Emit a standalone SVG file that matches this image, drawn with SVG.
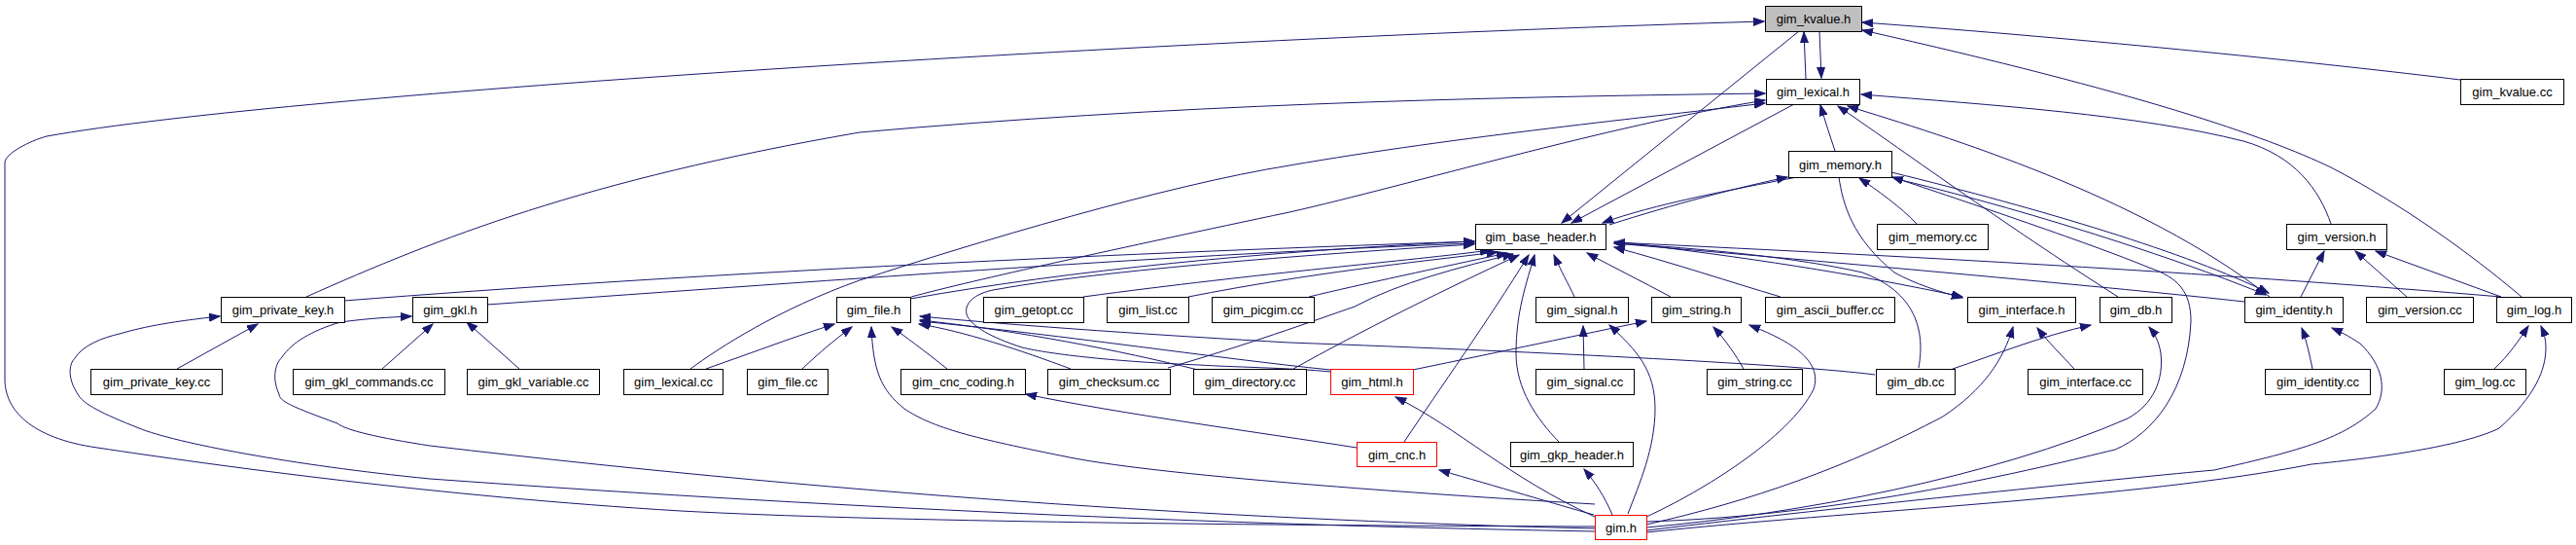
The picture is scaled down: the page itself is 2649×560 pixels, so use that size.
<svg xmlns="http://www.w3.org/2000/svg" width="2649" height="560" viewBox="0 0 2649 560">
<defs>
<marker id="ah" markerWidth="12" markerHeight="10" refX="11" refY="4" orient="auto" markerUnits="userSpaceOnUse"><path d="M0,0 L11,4 L0,8 z" fill="#191970" stroke="#191970" stroke-width="1"/></marker>
</defs>
<style>
.n rect{fill:#fff;stroke:#000;stroke-width:1}
.n.cur rect{fill:#bfbfbf}
.n.red rect{stroke:#ff0000}
.n text{font-family:"Liberation Sans",Arial,sans-serif;font-size:13px;text-anchor:middle;fill:#000}
#edges path{fill:none;stroke:#191970;stroke-width:1;marker-end:url(#ah)}
</style>
<rect width="2649" height="560" fill="#fff"/>
<g id="edges">
<path d="M1857,81 L1855,33"/>
<path d="M1871,32 L1873,80"/>
<path d="M1640,541 C1300,540 900,536 700,525 C450,510 220,478 100,460 C30,450 5,420 5,390 L5,167 C5,158 30,145 48,140 C300,95 1200,40 1814,22"/>
<path d="M2530,82 C2400,66 2150,40 1915,23"/>
<path d="M2593,305 C2540,260 2470,210 2397,172 C2330,140 2200,95 1915,31"/>
<path d="M1850,32 L1606,229"/>
<path d="M1845,107 L1616,229"/>
<path d="M1887,155 C1882,140 1877,125 1872,108"/>
<path d="M1848,182 C1780,195 1700,210 1648,229"/>
<path d="M1655,231 C1720,210 1790,192 1838,182"/>
<path d="M1971,230 C1955,213 1930,195 1912,183"/>
<path d="M2397,230 C2385,195 2360,160 2307,145 C2200,118 2050,108 1914,97"/>
<path d="M2366,305 L2390,258"/>
<path d="M2475,305 L2422,258"/>
<path d="M2572,305 L2443,258"/>
<path d="M315,305 C450,245 600,185 884,136 C1200,108 1500,100 1815,96"/>
<path d="M354,309 C700,282 1100,262 1516,248"/>
<path d="M182,379 L265,333"/>
<path d="M1640,546 C1300,540 900,525 442,492 C300,478 180,455 143,440 C105,425 85,415 80,405 C70,390 70,375 77,368 C85,355 105,347 123,343 C150,335 180,330 226,325"/>
<path d="M501,313 C900,285 1200,262 1516,250"/>
<path d="M393,379 L445,333"/>
<path d="M534,379 L480,331"/>
<path d="M1640,543 C1300,535 900,512 442,458 C390,450 355,442 347,435 C300,418 287,412 287,405 C280,390 282,375 290,367 C300,352 320,340 350,331 C380,327 400,326 423,325"/>
<path d="M710,379 C740,357 800,318 884,288 C1000,250 1200,190 1326,170 C1500,140 1700,120 1815,106"/>
<path d="M726,379 C780,360 820,345 858,333"/>
<path d="M825,379 C845,360 860,348 876,336"/>
<path d="M937,305 C1000,288 1150,255 1326,218 C1450,190 1650,130 1815,103"/>
<path d="M936,307 C1100,278 1300,258 1516,248"/>
<path d="M974,379 C950,360 930,345 917,336"/>
<path d="M1101,379 C1050,360 990,340 945,333"/>
<path d="M1232,380 C1150,360 1050,340 946,329"/>
<path d="M1368,380 C1250,368 1100,345 946,330"/>
<path d="M1368,382 C1330,378 1260,377 1234,375 C1150,372 1080,364 1051,357 C1020,347 998,335 994,323 C991,310 1005,300 1027,297 C1150,275 1400,258 1516,251"/>
<path d="M1928,385 C1850,375 1600,362 1326,352 C1200,345 1050,335 946,325"/>
<path d="M1640,518 C1500,510 1200,490 1100,470 C1000,450 960,440 930,420 C905,400 898,380 896,336"/>
<path d="M1114,305 C1300,280 1450,268 1533,257"/>
<path d="M1222,305 C1350,280 1450,270 1540,259"/>
<path d="M1346,305 C1400,292 1480,275 1550,260"/>
<path d="M1201,378 C1280,355 1350,330 1393,315 C1440,290 1500,275 1556,261"/>
<path d="M1330,379 C1400,340 1480,300 1562,262"/>
<path d="M1444,454 C1480,400 1530,330 1572,262"/>
<path d="M1603,454 C1580,430 1559,400 1559,363 C1559,320 1570,290 1578,262"/>
<path d="M1619,305 C1612,290 1606,280 1598,262"/>
<path d="M1718,305 C1690,290 1660,275 1632,260"/>
<path d="M1831,305 C1780,290 1720,270 1660,254"/>
<path d="M1973,378 C1980,340 1970,300 1915,280 C1850,265 1750,255 1660,250"/>
<path d="M1660,248 C1800,265 1900,280 2018,305"/>
<path d="M1891,182 C1895,210 1905,245 1948,280 C1970,292 1995,300 2018,306"/>
<path d="M2308,310 C2200,298 1950,275 1660,250"/>
<path d="M2572,305 C2300,282 2000,265 1660,249"/>
<path d="M1629,379 L1628,335"/>
<path d="M1793,379 C1785,365 1775,350 1762,336"/>
<path d="M1453,380 C1550,360 1620,345 1693,330"/>
<path d="M1674,528 C1686,497 1702,460 1702,420 C1702,380 1683,360 1655,334"/>
<path d="M1693,531 C1750,505 1840,450 1865,400 C1875,370 1840,350 1799,334"/>
<path d="M1640,531 C1550,490 1500,440 1435,408"/>
<path d="M1639,529 C1600,518 1540,500 1480,483"/>
<path d="M1395,460 C1300,445 1150,425 1055,405"/>
<path d="M1658,529 C1650,510 1640,495 1629,482"/>
<path d="M2133,379 C2120,365 2105,350 2095,337"/>
<path d="M1693,539 C1800,515 1900,480 1998,428 C2040,400 2060,370 2070,336"/>
<path d="M2008,379 C2050,365 2100,345 2150,334"/>
<path d="M2178,305 C2060,230 1950,150 1890,109"/>
<path d="M1693,542 C1850,528 2050,490 2188,430 C2215,415 2225,390 2222,363 C2220,350 2215,342 2210,336"/>
<path d="M2334,305 C2200,200 2000,140 1900,109"/>
<path d="M1945,177 C2100,215 2250,260 2333,301"/>
<path d="M1955,185 C2100,220 2250,270 2330,303"/>
<path d="M2378,379 C2375,365 2372,350 2367,337"/>
<path d="M1693,545 C1900,520 2200,490 2277,483 C2370,462 2410,450 2443,420 C2455,400 2450,375 2427,353 C2415,345 2405,340 2398,337"/>
<path d="M2565,379 C2580,365 2590,350 2600,335"/>
<path d="M1693,547 C1900,525 2200,512 2377,477 C2470,468 2540,455 2570,440 C2607,407 2618,380 2618,357 C2618,348 2616,342 2613,335"/>
<path d="M1693,536 C1900,530 2100,480 2175,462 C2215,445 2250,400 2253,330 C2253,300 2240,285 2210,275 C2150,250 2000,200 1946,182"/>
</g>
<g id="n_kvalue_h" class="n cur"><rect x="1815.5" y="6.5" width="99" height="26"/><text x="1865" y="24">gim_kvalue.h</text></g>
<g id="n_lexical_h" class="n"><rect x="1816.5" y="81.5" width="96" height="26"/><text x="1864.5" y="99">gim_lexical.h</text></g>
<g id="n_kvalue_cc" class="n"><rect x="2530.5" y="81.5" width="106" height="26"/><text x="2583.5" y="99">gim_kvalue.cc</text></g>
<g id="n_memory_h" class="n"><rect x="1839.5" y="155.5" width="106" height="27"/><text x="1892.5" y="173.5">gim_memory.h</text></g>
<g id="n_base_header_h" class="n"><rect x="1517.5" y="230.5" width="134" height="26"/><text x="1584.5" y="248">gim_base_header.h</text></g>
<g id="n_memory_cc" class="n"><rect x="1930.5" y="230.5" width="114" height="26"/><text x="1987.5" y="248">gim_memory.cc</text></g>
<g id="n_version_h" class="n"><rect x="2351.5" y="230.5" width="103" height="26"/><text x="2403" y="248">gim_version.h</text></g>
<g id="n_private_key_h" class="n"><rect x="227.5" y="305.5" width="127" height="26"/><text x="291" y="323">gim_private_key.h</text></g>
<g id="n_gkl_h" class="n"><rect x="424.5" y="305.5" width="77" height="26"/><text x="463" y="323">gim_gkl.h</text></g>
<g id="n_file_h" class="n"><rect x="860.5" y="305.5" width="76" height="26"/><text x="898.5" y="323">gim_file.h</text></g>
<g id="n_getopt_cc" class="n"><rect x="1011.5" y="305.5" width="103" height="26"/><text x="1063" y="323">gim_getopt.cc</text></g>
<g id="n_list_cc" class="n"><rect x="1138.5" y="305.5" width="84" height="26"/><text x="1180.5" y="323">gim_list.cc</text></g>
<g id="n_picgim_cc" class="n"><rect x="1246.5" y="305.5" width="105" height="26"/><text x="1299" y="323">gim_picgim.cc</text></g>
<g id="n_signal_h" class="n"><rect x="1579.5" y="305.5" width="95" height="26"/><text x="1627" y="323">gim_signal.h</text></g>
<g id="n_string_h" class="n"><rect x="1698.5" y="305.5" width="92" height="26"/><text x="1744.5" y="323">gim_string.h</text></g>
<g id="n_ascii_buffer_cc" class="n"><rect x="1815.5" y="305.5" width="133" height="26"/><text x="1882" y="323">gim_ascii_buffer.cc</text></g>
<g id="n_interface_h" class="n"><rect x="2023.5" y="305.5" width="111" height="26"/><text x="2079" y="323">gim_interface.h</text></g>
<g id="n_db_h" class="n"><rect x="2159.5" y="305.5" width="74" height="26"/><text x="2196.5" y="323">gim_db.h</text></g>
<g id="n_identity_h" class="n"><rect x="2308.5" y="305.5" width="101" height="26"/><text x="2359" y="323">gim_identity.h</text></g>
<g id="n_version_cc" class="n"><rect x="2433.5" y="305.5" width="110" height="26"/><text x="2488.5" y="323">gim_version.cc</text></g>
<g id="n_log_h" class="n"><rect x="2567.5" y="305.5" width="77" height="26"/><text x="2606" y="323">gim_log.h</text></g>
<g id="n_private_key_cc" class="n"><rect x="93.5" y="379.5" width="135" height="26"/><text x="161" y="397">gim_private_key.cc</text></g>
<g id="n_gkl_commands_cc" class="n"><rect x="301.5" y="379.5" width="156" height="26"/><text x="379.5" y="397">gim_gkl_commands.cc</text></g>
<g id="n_gkl_variable_cc" class="n"><rect x="480.5" y="379.5" width="136" height="26"/><text x="548.5" y="397">gim_gkl_variable.cc</text></g>
<g id="n_lexical_cc" class="n"><rect x="641.5" y="379.5" width="102" height="26"/><text x="692.5" y="397">gim_lexical.cc</text></g>
<g id="n_file_cc" class="n"><rect x="768.5" y="379.5" width="83" height="26"/><text x="810" y="397">gim_file.cc</text></g>
<g id="n_cnc_coding_h" class="n"><rect x="926.5" y="379.5" width="128" height="26"/><text x="990.5" y="397">gim_cnc_coding.h</text></g>
<g id="n_checksum_cc" class="n"><rect x="1077.5" y="379.5" width="126" height="26"/><text x="1140.5" y="397">gim_checksum.cc</text></g>
<g id="n_directory_cc" class="n"><rect x="1227.5" y="379.5" width="116" height="26"/><text x="1285.5" y="397">gim_directory.cc</text></g>
<g id="n_html_h" class="n red"><rect x="1368.5" y="379.5" width="85" height="26"/><text x="1411" y="397">gim_html.h</text></g>
<g id="n_signal_cc" class="n"><rect x="1579.5" y="379.5" width="101" height="26"/><text x="1630" y="397">gim_signal.cc</text></g>
<g id="n_string_cc" class="n"><rect x="1755.5" y="379.5" width="98" height="26"/><text x="1804.5" y="397">gim_string.cc</text></g>
<g id="n_db_cc" class="n"><rect x="1929.5" y="379.5" width="81" height="26"/><text x="1970" y="397">gim_db.cc</text></g>
<g id="n_interface_cc" class="n"><rect x="2085.5" y="379.5" width="118" height="26"/><text x="2144.5" y="397">gim_interface.cc</text></g>
<g id="n_identity_cc" class="n"><rect x="2329.5" y="379.5" width="108" height="26"/><text x="2383.5" y="397">gim_identity.cc</text></g>
<g id="n_log_cc" class="n"><rect x="2513.5" y="379.5" width="84" height="26"/><text x="2555.5" y="397">gim_log.cc</text></g>
<g id="n_cnc_h" class="n red"><rect x="1395.5" y="454.5" width="82" height="25"/><text x="1436.5" y="471.5">gim_cnc.h</text></g>
<g id="n_gkp_header_h" class="n"><rect x="1553.5" y="454.5" width="126" height="25"/><text x="1616.5" y="471.5">gim_gkp_header.h</text></g>
<g id="n_gim_h" class="n red"><rect x="1640.5" y="529.5" width="53" height="25"/><text x="1667" y="546.5">gim.h</text></g>
</svg>
